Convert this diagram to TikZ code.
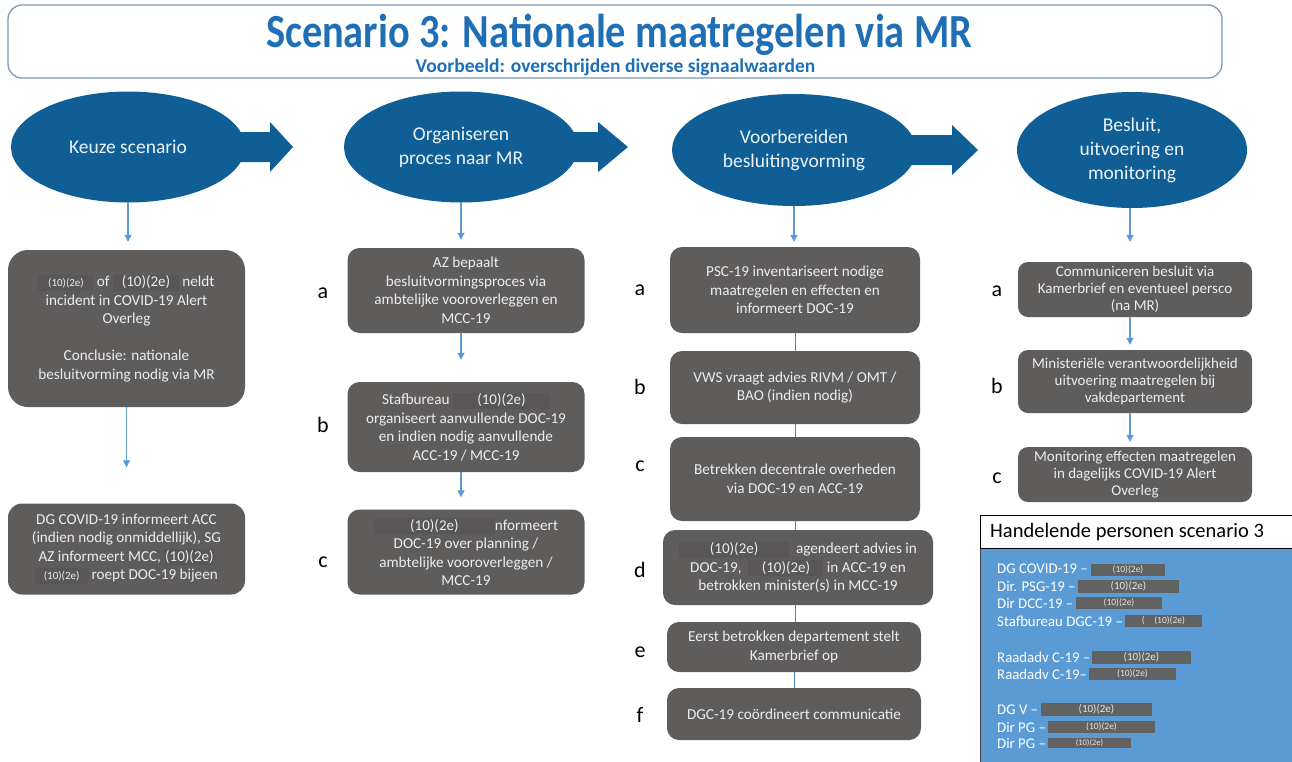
\documentclass[tikz,border=0pt]{standalone}
\usepackage{fontspec}
\setmainfont{Carlito}
\newfontfamily\titlefont[FakeStretch=0.85]{Carlito}
\usetikzlibrary{calc,arrows.meta,shapes.geometric}
\definecolor{ellblue}{HTML}{0F5F96}
\definecolor{titleblue}{HTML}{1F6FB7}
\definecolor{boxgray}{HTML}{5F5C5C}
\definecolor{redgray}{HTML}{585656}
\definecolor{lineblue}{HTML}{5B9BD5}
\definecolor{linkblue}{HTML}{4A86B8}
\definecolor{panelblue}{HTML}{5B9BD5}
\definecolor{panelred}{HTML}{626262}
\definecolor{frameblue}{HTML}{7F98B5}
\newcommand{\redact}[2][15]{{\setlength{\fboxsep}{0pt}\colorbox{redgray}{\rule[-4pt]{0pt}{16pt}\makebox[#2]{\fontsize{#1}{#1}\selectfont(10)(2e)}}}}
\newcommand{\blockarr}[4]{\fill[ellblue] ($(#1.center)+(#2,-15)$) -- ($(#1.center)+(#3,-15)$) -- ($(#1.center)+(#3,-25)$) -- ($(#1.center)+(#4,0)$) -- ($(#1.center)+(#3,25)$) -- ($(#1.center)+(#3,15)$) -- ($(#1.center)+(#2,15)$) -- cycle;}
\tikzset{
  gbox/.style={fill=boxgray, rounded corners=12pt, text=white!93!black, align=center, inner sep=0pt, font=\fontsize{15.2}{18.5}\selectfont},
  gboxs/.style={gbox, font=\fontsize{15}{17.2}\selectfont},
  ell/.style={ellipse, fill=ellblue, text=white!92!ellblue, align=center, inner sep=0pt, font=\fontsize{19.5}{24}\selectfont},
  lbl/.style={text=black, font=\fontsize{22}{22}\selectfont, inner sep=0pt},
  dnarrow/.style={draw=lineblue, line width=1.1pt, -{Triangle[width=7pt,length=7pt]}},
  link/.style={draw=linkblue, line width=0.9pt},
  redbox/.style={fill=panelred, text=white!90!black, inner sep=0pt, font=\fontsize{9.5}{9.5}\selectfont},
  plist/.style={anchor=west, text=white, inner sep=0pt, font=\fontsize{14.8}{14.8}\selectfont},
}
\begin{document}
\begin{tikzpicture}[x=1pt,y=-1pt]
\useasboundingbox (0,0) rectangle (1292,761);
\fill[white] (0,0) rectangle (1292,761);
% title
\node[draw=frameblue, line width=1.3pt, rounded corners=14pt, minimum width=1214pt, minimum height=73pt, inner sep=0pt] (frame) at (615,41.5) {};
\node[anchor=base, text=titleblue, font=\titlefont\bfseries\fontsize{47.5}{47.5}\selectfont, inner sep=0pt] (title) at (619,47) {Scenario 3: Nationale maatregelen via MR};
\node[anchor=base, text=titleblue, font=\bfseries\fontsize{19.5}{19.5}\selectfont, inner sep=0pt] (subtitle) at (615.5,72.5) {Voorbeeld: overschrijden diverse signaalwaarden};
% ellipses
\node[ell, minimum width=234pt, minimum height=111pt] (e1) at (128,147) {Keuze scenario};
\node[ell, minimum width=234pt, minimum height=111pt] (e2) at (461,147) {Organiseren\\proces naar MR};
\node[ell, minimum width=244pt, minimum height=112pt] (e3) at (794,150) {Voorbereiden\\besluitingvorming};
\node[ell, minimum width=230pt, minimum height=116pt] (e4) at (1132,150) {Besluit,\\uitvoering en\\monitoring};
\blockarr{e1}{90}{142}{165}
\blockarr{e2}{90}{137}{167}
\blockarr{e3}{100}{158}{184}
% column 1
\node[gbox, rounded corners=20pt, minimum width=237pt, minimum height=157pt] (c1a) at (126.5,328.5) {\redact[11]{55pt} of \redact{66pt} neldt\\incident in COVID-19 Alert\\Overleg\\[18.5pt]Conclusie: nationale\\besluitvorming nodig via MR};
\node[gbox, rounded corners=14pt, minimum width=237pt, minimum height=91pt] (c1b) at (126.5,549) {DG COVID-19 informeert ACC\\(indien nodig onmiddellijk), SG\\AZ informeert MCC, \redact{50pt}\\\redact[11]{53pt} roept DOC-19 bijeen};
\draw[dnarrow, shorten >=8pt] (e1.south) -- (e1.south |- c1a.north);
\draw[dnarrow, shorten >=36pt] (c1a.south) -- (c1b.north);
% column 2
\node[gbox, minimum width=237pt, minimum height=85pt] (c2a) at (466,290.5) {AZ bepaalt\\besluitvormingsproces via\\ambtelijke vooroverleggen en\\MCC-19};
\node[gbox, minimum width=237pt, minimum height=90pt] (c2b) at (466,427) {Stafbureau \redact{97pt}\\organiseert aanvullende DOC-19\\en indien nodig aanvullende\\ACC-19 / MCC-19};
\node[gbox, minimum width=237pt, minimum height=85pt] (c2c) at (466,552) {\redact{121pt}nformeert\\DOC-19 over planning /\\ambtelijke vooroverleggen /\\MCC-19};
\draw[dnarrow, shorten >=8pt] (e2.south) -- (e2.south |- c2a.north);
\draw[dnarrow, shorten >=22pt] (c2a.south -| e2.south) -- (c2b.north -| e2.south);
\draw[dnarrow, shorten >=12pt] (c2b.south -| e2.south) -- (c2c.north -| e2.south);
\node[lbl] (l2a) at (323,293) {a};
\node[lbl] (l2b) at (323,425) {b};
\node[lbl] (l2c) at (323,562) {c};
% column 3
\node[gbox, minimum width=250pt, minimum height=86pt] (c3a) at (795,290) {PSC-19 inventariseert nodige\\maatregelen en effecten en\\informeert DOC-19};
\node[gbox, minimum width=250pt, minimum height=73pt] (c3b) at (795,387.5) {VWS vraagt advies RIVM / OMT /\\BAO (indien nodig)};
\node[gbox, minimum width=250pt, minimum height=84pt] (c3c) at (795,479) {Betrekken decentrale overheden\\via DOC-19 en ACC-19};
\node[gbox, minimum width=270pt, minimum height=75pt] (c3d) at (798,567.5) {\redact{110pt}\ \ agendeert advies in\\DOC-19,\ \ \redact{75pt} in ACC-19 en\\betrokken minister(s) in MCC-19};
\node[gbox, minimum width=254pt, minimum height=50pt] (c3e) at (794,647) {Eerst betrokken departement stelt\\Kamerbrief op};
\node[gbox, minimum width=254pt, minimum height=52pt] (c3f) at (794,714) {DGC-19 coördineert communicatie};
\draw[dnarrow, shorten >=5pt] (e3.south) -- (e3.south |- c3a.north);
\draw[link] (c3a) -- (c3b);
\draw[link] (c3b) -- (c3c);
\draw[link] (c3c.south) -- (c3c.south |- c3d.north);
\draw[link] (c3d.south -| c3c.south) -- (c3c.south |- c3e.north);
\draw[link] (c3e) -- (c3f);
\node[lbl] (l3a) at (640,290) {a};
\node[lbl] (l3b) at (640,387) {b};
\node[lbl] (l3c) at (640,466) {c};
\node[lbl] (l3d) at (640,570) {d};
\node[lbl] (l3e) at (640,652) {e};
\node[lbl] (l3f) at (640,715) {f};
% column 4
\node[gboxs, rounded corners=10pt, minimum width=234pt, minimum height=55pt] (c4a) at (1135,289.5) {Communiceren besluit via\\Kamerbrief en eventueel persco\\(na MR)};
\node[gboxs, rounded corners=10pt, minimum width=234pt, minimum height=63pt] (c4b) at (1135,381.5) {Ministeriële verantwoordelijkheid\\uitvoering maatregelen bij\\vakdepartement};
\node[gboxs, rounded corners=10pt, minimum width=234pt, minimum height=55pt] (c4c) at (1135,474.5) {Monitoring effecten maatregelen\\in dagelijks COVID-19 Alert\\Overleg};
\coordinate (x4) at (1130,0);
\draw[dnarrow, shorten >=20pt] (e4.south -| x4) -- (c4a.north -| x4);
\draw[dnarrow, shorten >=5pt] (c4a.south -| x4) -- (c4b.north -| x4);
\draw[dnarrow, shorten >=5pt] (c4b.south -| x4) -- (c4c.north -| x4);
\node[lbl] (l4a) at (997,291) {a};
\node[lbl] (l4b) at (997,386) {b};
\node[lbl] (l4c) at (997,478) {c};
% Handelende personen
\node[fill=panelblue, draw=black!75, line width=0.8pt, anchor=north west, minimum width=313pt, minimum height=214pt, inner sep=0pt] (hpbody) at (980,548) {};
\node[fill=white, draw=black, line width=0.8pt, anchor=north west, minimum width=313pt, minimum height=33pt, inner sep=0pt] (hphead) at (980,515) {};
\node[anchor=west, font=\fontsize{20.5}{20.5}\selectfont, inner sep=0pt] (hptitle) at (990,532) {Handelende personen scenario 3};
\node[plist] (p1) at (997,569) {DG COVID-19 –};
\node[plist] (p2) at (997,586) {Dir. PSG-19 –};
\node[plist] (p3) at (997,603) {Dir DCC-19 –};
\node[plist] (p4) at (997,621) {Stafbureau DGC-19 –};
\node[plist] (p5) at (997,657) {Raadadv C-19 –};
\node[plist] (p6) at (997,674) {Raadadv C-19–};
\node[plist] (p7) at (997,710) {DG V –};
\node[plist] (p8) at (997,727) {Dir PG –};
\node[plist] (p9) at (997,743) {Dir PG –};
\node[redbox, minimum width=74pt, minimum height=12pt] (r1) at (1128,570) {(10)(2e)};
\node[redbox, minimum width=101pt, minimum height=13pt, font=\fontsize{11}{11}\selectfont] (r2) at (1128.5,586.5) {(10)(2e)};
\node[redbox, minimum width=86pt, minimum height=12pt] (r3) at (1119,603) {(10)(2e)};
\node[redbox, minimum width=77pt, minimum height=12pt] (r4) at (1163.5,621) {(\quad(10)(2e)};
\node[redbox, minimum width=99pt, minimum height=13pt, font=\fontsize{11}{11}\selectfont] (r5) at (1141.5,657.5) {(10)(2e)};
\node[redbox, minimum width=87pt, minimum height=12pt] (r6) at (1132.5,674) {(10)(2e)};
\node[redbox, minimum width=111pt, minimum height=13pt, font=\fontsize{11}{11}\selectfont] (r7) at (1096.5,709.5) {(10)(2e)};
\node[redbox, minimum width=107pt, minimum height=12pt] (r8) at (1101.5,727) {(10)(2e)};
\node[redbox, minimum width=83pt, minimum height=10pt, font=\fontsize{8.5}{8.5}\selectfont] (r9) at (1089.5,743) {(10)(2e)};
\end{tikzpicture}
\end{document}
